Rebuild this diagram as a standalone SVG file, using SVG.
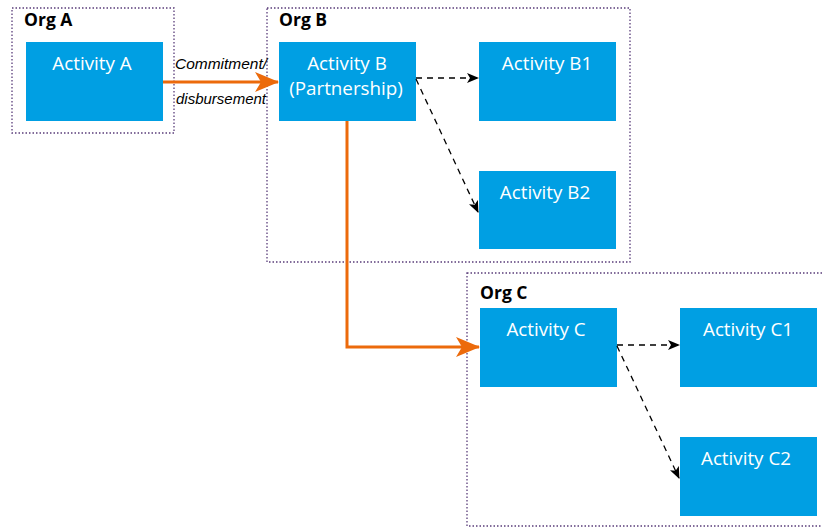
<svg xmlns="http://www.w3.org/2000/svg" width="822" height="527" viewBox="0 0 822 527">
<defs>
<style>
.org{fill:none;stroke:#5a3d7a;stroke-width:1.3;stroke-dasharray:1.5 2}
.act{fill:#009fe3}
.t{font-family:"Open Sans","Noto Sans",sans-serif;font-size:18.8px;fill:#fff;text-anchor:middle}
.ot{font-family:"Open Sans","Noto Sans",sans-serif;font-size:17.5px;font-weight:bold;fill:#000}
.lbl{font-family:"Liberation Sans",sans-serif;font-style:italic;font-size:14px;fill:#000}
.or{fill:none;stroke:#ec6a0b;stroke-width:3}
.da{fill:none;stroke:#000;stroke-width:1.3;stroke-dasharray:6 5}
</style>
<marker id="ab" markerWidth="12" markerHeight="10" refX="11" refY="5" orient="auto" markerUnits="userSpaceOnUse"><path d="M0,0 L12,5 L0,10 L3,5 Z" fill="#000"/></marker>
<marker id="aob" markerWidth="24" markerHeight="20" refX="23" refY="10" orient="auto" markerUnits="userSpaceOnUse"><path d="M0,0 L24,10 L0,20 L6,10 Z" fill="#ec6a0b"/></marker>
</defs>
<g id="orgA"><rect class="org" x="12" y="8" width="162" height="125"/><text class="ot" x="24" y="26">Org A</text></g>
<g id="orgB"><rect class="org" x="267" y="8" width="363" height="254"/><text class="ot" x="279" y="26">Org B</text></g>
<g id="orgC"><rect class="org" x="467" y="273" width="360" height="253"/><text class="ot" x="480" y="299">Org C</text></g>
<g id="actA"><rect class="act" x="26" y="42" width="137" height="79"/><text class="t" x="92" y="70">Activity A</text></g>
<g id="actB"><rect class="act" x="279" y="42" width="137" height="79"/><text class="t" x="347" y="70">Activity B</text><text class="t" x="346" y="95">(Partnership)</text></g>
<g id="actB1"><rect class="act" x="479" y="42" width="137" height="79"/><text class="t" x="547" y="70">Activity B1</text></g>
<g id="actB2"><rect class="act" x="479" y="171" width="137" height="78"/><text class="t" x="545" y="199">Activity B2</text></g>
<g id="actC"><rect class="act" x="480" y="308" width="137" height="79"/><text class="t" x="546" y="336">Activity C</text></g>
<g id="actC1"><rect class="act" x="680" y="308" width="137" height="79"/><text class="t" x="748" y="336">Activity C1</text></g>
<g id="actC2"><rect class="act" x="680" y="437" width="137" height="79"/><text class="t" x="746" y="465">Activity C2</text></g>
<g id="connectors">
<path class="or" d="M163,82 H278" marker-end="url(#aob)"/>
<path class="or" d="M347,121 V347 H479" marker-end="url(#aob)"/>
<path class="da" d="M416,78 H478" marker-end="url(#ab)"/>
<path class="da" d="M416,79 L478,212" marker-end="url(#ab)"/>
<path class="da" d="M617,345 H679" marker-end="url(#ab)"/>
<path class="da" d="M617,346 L679,478" marker-end="url(#ab)"/>
<text class="lbl" x="175" y="69" textLength="92" lengthAdjust="spacingAndGlyphs">Commitment/</text>
<text class="lbl" x="176" y="104" textLength="90" lengthAdjust="spacingAndGlyphs">disbursement</text>
</g>
</svg>
